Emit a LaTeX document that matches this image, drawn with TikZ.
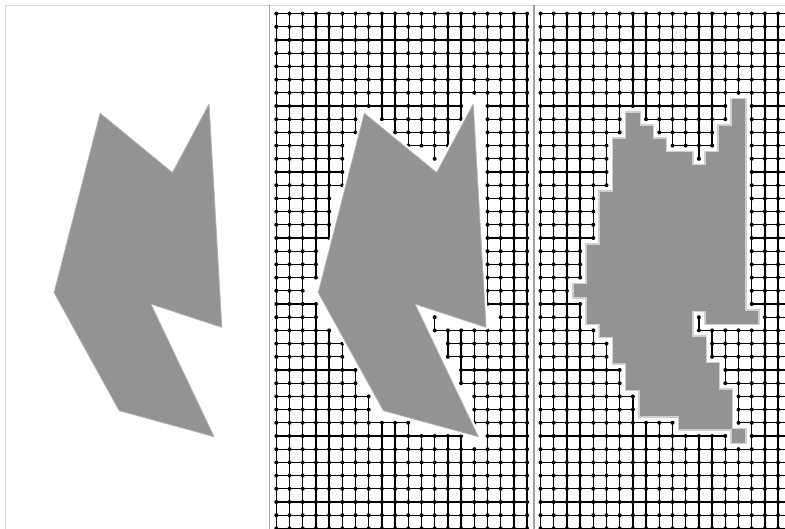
\documentclass[tikz,border=0pt]{standalone}
\usepackage{xcolor}
\usepackage{tikz}
\definecolor{shapegray}{HTML}{939393}
\definecolor{shapeedge}{HTML}{B2B2B2}
\definecolor{rimgray}{HTML}{D0D0D0}
\definecolor{bordergray}{HTML}{D8D8D8}
\definecolor{sepgray}{HTML}{A0A0A0}
\tikzstyle{gridline} = [draw=black, line width=1.3pt]
\tikzstyle{gridpoint} = [fill=black]
\tikzstyle{obstacle} = [fill=shapegray, draw=shapeedge, line width=0.8pt, line join=round]
\tikzstyle{halo} = [draw=white, line width=5pt, line join=round]
\tikzstyle{cellrim} = [draw=rimgray, line width=3pt]
\tikzstyle{cellfill} = [fill=shapegray]
\tikzstyle{frameline} = [draw=bordergray, line width=1.2pt]
\tikzstyle{separator} = [draw=sepgray, line width=1.4pt]

% blocked cells, row/first column/last column
\def\blockedrows{7/15/15, 8/7/7, 8/15/15, 9/7/8, 9/14/15, 10/6/9, 10/14/15,
  11/6/11, 11/13/15, 12/6/15, 13/6/15, 14/5/15, 15/5/15, 16/5/15, 17/5/15,
  18/4/15, 19/4/15, 20/4/15, 21/3/15, 22/4/15, 23/4/11, 23/13/16, 24/5/11,
  25/6/12, 26/6/12, 27/7/13, 28/7/13, 29/8/14, 30/8/14, 31/11/14, 32/15/15}
\foreach \r/\a/\b in \blockedrows {%
  \foreach \c in {\a,...,\b} {\expandafter\gdef\csname cellon@\c @\r\endcsname{}}}

% grid graph without the blocked cells
\newcommand{\gridgraph}{%
  \foreach \j in {0,...,39}{%
    \foreach \i in {0,...,18}{%
      \pgfmathtruncatemacro{\k}{\i+1}%
      \ifcsname cellon@\i @\j\endcsname\else
        \ifcsname cellon@\k @\j\endcsname\else
          \draw[gridline] (\i,\j) -- (\k,\j);
        \fi
      \fi
    }%
  }%
  \foreach \i in {0,...,19}{%
    \foreach \j in {0,...,38}{%
      \pgfmathtruncatemacro{\k}{\j+1}%
      \ifcsname cellon@\i @\j\endcsname\else
        \ifcsname cellon@\i @\k\endcsname\else
          \draw[gridline] (\i,\j) -- (\i,\k);
        \fi
      \fi
    }%
  }%
  \foreach \i in {0,...,19}{%
    \foreach \j in {0,...,39}{%
      \ifcsname cellon@\i @\j\endcsname\else
        \fill[gridpoint] (\i,\j) circle (2pt);
      \fi
    }%
  }%
}

\begin{document}
\begin{tikzpicture}[x=1pt, y=-1pt]
    \useasboundingbox (0,0) rectangle (785,529);
    \clip (0,0) rectangle (785,529);

    % Left panel -- the shape alone
    \begin{scope}[shift={(12.1,13.6)}, x=13.2pt, y=-13.2pt]
        \draw[obstacle] (6.67,7.55) -- (12.15,12.05) -- (14.92,6.85) -- (15.89,23.77)
            -- (10.51,22.0) -- (15.30,32.05) -- (8.11,30.08) -- (3.18,21.14) -- cycle;
    \end{scope}

    % Middle panel -- shape over the grid
    \begin{scope}[shift={(276.3,13.6)}, x=13.2pt, y=-13.2pt]
        \gridgraph
        \draw[halo] (6.67,7.55) -- (12.15,12.05) -- (14.92,6.85) -- (15.89,23.77)
            -- (10.51,22.0) -- (15.30,32.05) -- (8.11,30.08) -- (3.18,21.14) -- cycle;
        \draw[obstacle] (6.67,7.55) -- (12.15,12.05) -- (14.92,6.85) -- (15.89,23.77)
            -- (10.51,22.0) -- (15.30,32.05) -- (8.11,30.08) -- (3.18,21.14) -- cycle;
    \end{scope}

    % Right panel -- shape as grid cells
    \begin{scope}[shift={(540.5,13.6)}, x=13.2pt, y=-13.2pt]
        \gridgraph
        \foreach \r/\a/\b in \blockedrows {
            \foreach \c in {\a,...,\b}
                \draw[cellrim] (\c-0.5,\r-0.5) rectangle (\c+0.5,\r+0.5);
        }
        \foreach \r/\a/\b in \blockedrows {
            \foreach \c in {\a,...,\b}
                \fill[cellfill] (\c-0.5,\r-0.5) rectangle (\c+0.5,\r+0.5);
        }
    \end{scope}

    % Frame
    \draw[frameline] (5.5,529) -- (5.5,5.5) -- (785,5.5);
    \draw[separator] (269.7,5.5) -- (269.7,529);
    \draw[separator] (533.9,5.5) -- (533.9,529);
\end{tikzpicture}
\end{document}
